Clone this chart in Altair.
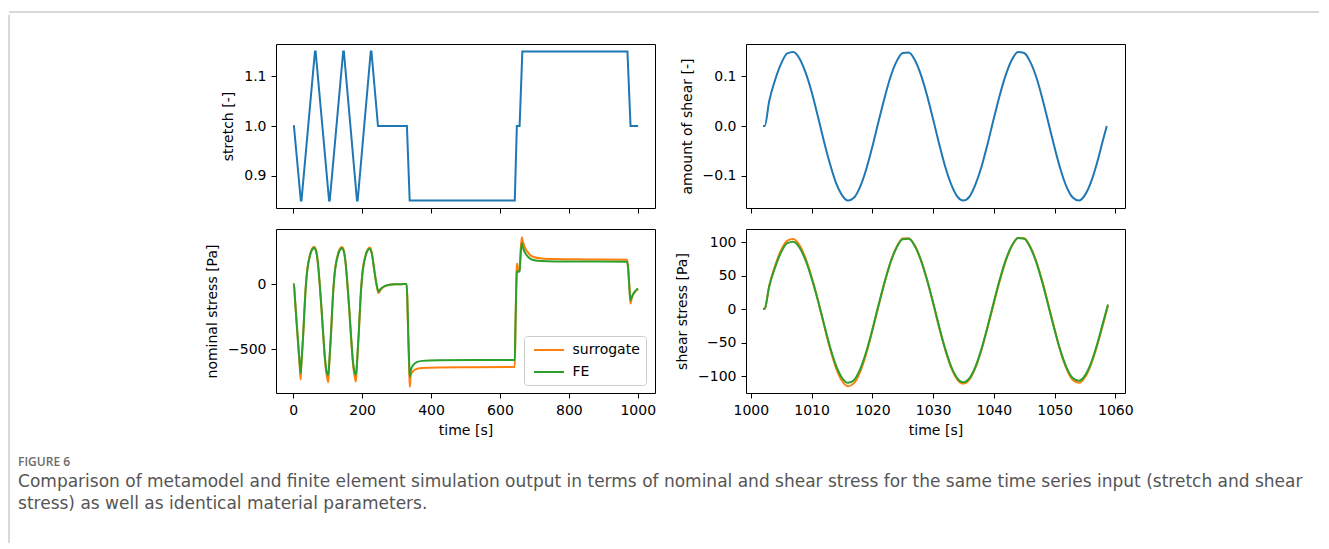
import altair as alt
import pandas as pd

# ---------------- data ----------------
STRETCH_T = [0, 2, 22, 24, 63, 65, 104, 106, 145, 147, 185, 187, 225, 227, 246, 330, 338,
             643, 649, 657, 665, 970, 979, 1001]
STRETCH_V = [1.0, 1.0, 0.85, 0.85, 1.15, 1.15, 0.85, 0.85, 1.15, 1.15, 0.85, 0.85, 1.15, 1.15,
             1.0, 1.0, 0.85, 0.85, 1.0, 1.0, 1.15, 1.15, 1.0, 1.0]

NOM_T = [0, 2, 5, 10, 15, 19, 21.5, 23, 26, 29, 32, 35, 38, 41, 44, 48, 53, 58, 61.5, 65, 68, 72, 77, 82, 87, 92, 97, 101.5,
         103.5, 106.5, 109.5, 112.5, 115.5, 118.5, 121.5, 124.5, 128.5, 133.5, 138.5, 142, 145.5, 148.5, 152.5, 157.5,
         162.5, 167.5, 172.5, 177.5, 182,
         184, 187, 190, 193, 196, 199, 202, 205, 209, 214, 219, 222.5, 226, 229, 233, 237, 241, 245, 247.5, 251, 256,
         262, 270, 280, 295, 315, 329,
         331, 334, 337, 338.5, 341, 345, 350, 360, 375, 420, 520, 643,
         645, 647, 649, 650.5, 652, 655, 657, 660, 663.5, 667, 671, 676, 682, 690, 700, 720, 760, 850, 969,
         972, 975, 977, 979, 982, 986, 991, 996, 1001]
NOM_FE = [0, 0, -110, -300, -480, -620, -685, -635, -515, -385, -228, -80, 30, 110, 162, 212, 255, 274, 278, 262,
          232, 150, -5, -185, -385, -565, -675, -700,
          -650, -520, -388, -230, -82, 28, 108, 160, 210, 252, 272, 276, 260, 230, 148, -8, -188, -388, -568, -675, -697,
          -648, -518, -386, -228, -80, 28, 106, 158, 206, 248, 267, 271, 255, 222, 150, 75, 10, -40, -60, -48,
          -33, -21, -12, -6, -2, -1, 0,
          -100, -400, -640, -713, -668, -637, -617, -599, -591, -587, -585, -585,
          -320, -60, 90, 98, 95, 94, 96, 220, 313, 280, 250, 227, 208, 192, 183, 177, 174, 173, 172,
          120, 0, -75, -125, -105, -80, -60, -45, -35]
NOM_SURR = [0, 0, -112, -305, -490, -640, -735, -650, -520, -388, -228, -78, 34, 116, 168, 218, 262, 283, 287, 270,
            238, 152, -5, -188, -392, -580, -700, -755,
            -665, -525, -390, -230, -80, 32, 114, 166, 216, 260, 280, 285, 268, 236, 150, -8, -190, -395, -582, -700, -750,
            -662, -522, -388, -228, -78, 32, 112, 164, 212, 255, 275, 280, 262, 226, 150, 72, 5, -50, -70, -55,
            -37, -23, -13, -6, -2, -1, 0,
            -110, -430, -700, -790, -705, -680, -664, -652, -646, -642, -640, -638,
            -330, -60, 140, 158, 112, 108, 112, 260, 360, 322, 290, 262, 240, 218, 206, 197, 192, 189, 187,
            130, 5, -85, -150, -115, -85, -63, -48, -38]

SHEAR_T = [1002, 1002.3, 1003, 1004, 1005, 1006, 1007, 1008, 1009, 1010, 1011, 1012, 1013, 1014, 1015, 1016,
           1017, 1018, 1019, 1020, 1021, 1022, 1023, 1024, 1025, 1026, 1027, 1028, 1029, 1030, 1031, 1032,
           1033, 1034, 1035, 1036, 1037, 1038, 1039, 1040, 1041, 1042, 1043, 1044, 1045, 1046, 1047, 1048,
           1049, 1050, 1051, 1052, 1053, 1054, 1055, 1056, 1057, 1058, 1058.6]
SHEAR_V = [0.0, 0.0, 0.049, 0.093, 0.126, 0.146, 0.149, 0.136, 0.108, 0.069, 0.021, -0.029,
           -0.075, -0.114, -0.139, -0.150, -0.144, -0.122, -0.087, -0.042, 0.008, 0.056,
           0.099, 0.130, 0.147, 0.148, 0.133, 0.103, 0.062, 0.014, -0.036, -0.082,
           -0.118, -0.142, -0.150, -0.142, -0.117, -0.081, -0.035, 0.015, 0.063, 0.104,
           0.134, 0.149, 0.147, 0.129, 0.098, 0.055, 0.006, -0.043, -0.088, -0.123,
           -0.144, -0.150, -0.139, -0.113, -0.074, -0.027, 0.0]

SS_T = [1002, 1002.3, 1003, 1004, 1005, 1006, 1007, 1008, 1009, 1010, 1011, 1012, 1013, 1014, 1015, 1016,
        1017, 1018, 1019, 1020, 1021, 1022, 1023, 1024, 1025, 1026, 1027, 1028, 1029, 1030, 1031, 1032,
        1033, 1034, 1035, 1036, 1037, 1038, 1039, 1040, 1041, 1042, 1043, 1044, 1045, 1046, 1047, 1048,
        1049, 1050, 1051, 1052, 1053, 1054, 1055, 1056, 1057, 1058, 1058.8]
SS_FE = [0, 1, 33.0, 62.4, 84.9, 98.2, 100.5, 91.8, 73.0, 46.2, 14.5, -20.9,
         -55.2, -83.3, -102.2, -109.9, -105.5, -89.4, -63.6, -30.7, 5.3, 39.6,
         69.6, 91.8, 104.2, 104.8, 93.9, 72.7, 43.7, 9.9, -26.1, -59.3,
         -86.1, -103.1, -109.0, -102.9, -85.3, -58.5, -25.2, 10.7, 44.9, 74.2,
         95.2, 106.0, 105.0, 92.2, 69.6, 39.2, 4.4, -30.8, -62.6, -87.5,
         -102.8, -106.8, -99.1, -80.4, -52.8, -19.5, 7.0]
SS_SURR = [0, 1, 33.5, 64.9, 88.3, 102.1, 104.5, 95.4, 75.9, 48.0, 14.8, -21.9,
           -57.7, -87.1, -106.8, -114.9, -110.3, -93.5, -66.5, -32.1, 4.0, 39.0,
           70.3, 92.7, 105.2, 105.8, 94.8, 73.4, 44.1, 9.0, -27.5, -60.4,
           -87.7, -105.0, -111.0, -104.8, -86.9, -59.6, -26.5, 8.5, 42.5, 72.5,
           94.5, 106.0, 105.5, 93.0, 71.0, 41.0, 6.0, -29.5, -63.5, -89.5,
           -105.7, -109.8, -101.9, -82.6, -55.0, -22.0, 5.0]

SERIES = ["surrogate", "FE"]
X1_TICKS = [0, 200, 400, 600, 800, 1000]
X2_TICKS = [1000, 1010, 1020, 1030, 1040, 1050, 1060]
CAPTION_HEAD = "FIGURE 6"
CAPTION = ["Comparison of metamodel and finite element simulation output in terms of nominal and shear stress for the same time series input (stretch and shear",
           "stress) as well as identical material parameters."]

# ---------------- styling ----------------
FONT = "DejaVu Sans"
BLUE, ORANGE, GREEN = "#1f77b4", "#ff7f0e", "#2ca02c"
FRAME = "#b3b3b3"
W, H = 379, 164

stretch_df = pd.DataFrame({"t": STRETCH_T, "v": STRETCH_V})
nom_df = pd.DataFrame({"t": NOM_T, SERIES[0]: NOM_SURR, SERIES[1]: NOM_FE}).melt("t", var_name="series", value_name="v")
shear_df = pd.DataFrame({"t": SHEAR_T, "v": SHEAR_V})
ss_df = pd.DataFrame({"t": SS_T, SERIES[0]: SS_SURR, SERIES[1]: SS_FE}).melt("t", var_name="series", value_name="v")

x1 = lambda labels, title: alt.X("t:Q", scale=alt.Scale(domain=[-50, 1050], nice=False, zero=False),
                                 axis=alt.Axis(values=X1_TICKS, labels=labels, title=title, format="d"))
x2 = lambda labels, title: alt.X("t:Q", scale=alt.Scale(domain=[999.2, 1061.6], nice=False, zero=False),
                                 axis=alt.Axis(values=X2_TICKS, labels=labels, title=title, format="d"))

c_stretch = alt.Chart(stretch_df).mark_line(color=BLUE, strokeWidth=2).encode(
    x=x1(False, None),
    y=alt.Y("v:Q", scale=alt.Scale(domain=[0.835, 1.165], nice=False, zero=False),
            axis=alt.Axis(values=[0.9, 1.0, 1.1], format=".1f", title="stretch [-]")),
).properties(width=W, height=H)

c_shear = alt.Chart(shear_df).mark_line(color=BLUE, strokeWidth=2, interpolate="monotone").encode(
    x=x2(False, None),
    y=alt.Y("v:Q", scale=alt.Scale(domain=[-0.165, 0.165], nice=False, zero=False),
            axis=alt.Axis(values=[-0.1, 0.0, 0.1], format=".1f", title="amount of shear [-]")),
).properties(width=W, height=H)

nom_base = alt.Chart(nom_df).mark_line(strokeWidth=2, interpolate="monotone").encode(
    x=x1(True, "time [s]"),
    y=alt.Y("v:Q", scale=alt.Scale(domain=[-838, 423], nice=False, zero=False),
            axis=alt.Axis(values=[-500, 0], title="nominal stress [Pa]")),
    color=alt.Color("series:N", scale=alt.Scale(domain=SERIES, range=[ORANGE, GREEN]),
                    legend=alt.Legend(title=None, orient="none", legendX=515, legendY=324,
                                      symbolType="M-2,0H2", symbolSize=225, symbolStrokeWidth=2,
                                      symbolOffset=11,
                                      labelFont=FONT, labelFontSize=14, labelColor="black",
                                      labelOffset=15, padding=5.5, rowPadding=6, cornerRadius=3,
                                      strokeColor="#cccccc", fillColor="white")),
)
c_nom = alt.layer(
    nom_base.transform_filter(alt.datum.series == SERIES[0]),
    nom_base.transform_filter(alt.datum.series == SERIES[1]),
).properties(width=W, height=H)

ss_y = alt.Y("v:Q", scale=alt.Scale(domain=[-125, 119.4], nice=False, zero=False),
             axis=alt.Axis(values=[-100, -50, 0, 50, 100], title="shear stress [Pa]"))
ss_base = alt.Chart(ss_df).encode(x=x2(True, "time [s]"), y=ss_y)
c_ss = alt.layer(
    ss_base.transform_filter(alt.datum.series == SERIES[0]).mark_line(color=ORANGE, strokeWidth=2, interpolate="monotone"),
    ss_base.transform_filter(alt.datum.series == SERIES[1]).mark_line(color=GREEN, strokeWidth=2, interpolate="monotone"),
).properties(width=W, height=H)

grid = alt.concat(
    c_stretch, c_shear, c_nom, c_ss, columns=2, spacing={"row": 14, "column": 18},
    title=alt.TitleParams(text=CAPTION_HEAD, subtitle=CAPTION, orient="bottom", anchor="start",
                          dx=-187, offset=19, font="Open Sans", fontSize=12, fontWeight=600,
                          color="#6b6b6b", subtitleFont="DejaVu Sans", subtitleFontSize=17,
                          subtitleFontWeight=400, subtitleColor="#555555", subtitleLineHeight=22,
                          subtitlePadding=5),
)

blank = pd.DataFrame({"a": [0]})
def hrule(w):
    return alt.Chart(blank).mark_rule(color=FRAME, strokeWidth=1).encode(
        x=alt.value(0), x2=alt.value(w), y=alt.value(0)).properties(
        width=w, height=1, view=alt.ViewBackground(stroke="transparent"))

def vrule(h, color):
    return alt.Chart(blank).mark_rule(color=color, strokeWidth=1).encode(
        x=alt.value(0), y=alt.value(0), y2=alt.value(h)).properties(
        width=1, height=h, view=alt.ViewBackground(stroke="transparent"))

top_line = hrule(1310)
left_line = vrule(528, FRAME)
spacer = vrule(27, "transparent")

chart = alt.vconcat(
    top_line,
    alt.hconcat(left_line, alt.vconcat(spacer, grid, spacing=0), spacing=7),
    spacing=0,
).properties(
    padding={"left": 0, "top": 3, "right": 0, "bottom": 0}
).configure_view(
    stroke="black", strokeWidth=1
).configure_axis(
    domain=False, grid=False, ticks=True, tickColor="black", tickSize=5, tickWidth=1,
    labelFont=FONT, labelFontSize=14, labelColor="black", labelPadding=5,
    titleFont=FONT, titleFontSize=14, titleFontWeight="normal", titleColor="black", titlePadding=6,
).configure_axisY(
    titlePadding=8
)

chart.save("out.html", embed_options={"renderer": "svg", "actions": False})
